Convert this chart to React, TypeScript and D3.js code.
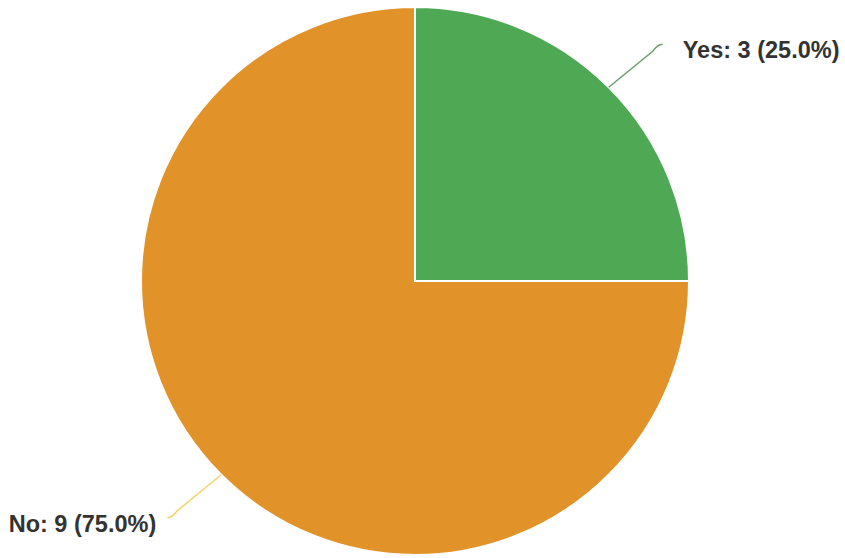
import React from "react";
import * as d3 from "d3";

const categories = ["Yes", "No"];
const values = [3, 9];
const colors = ["#4fa853", "#e1932a"];
const leaderColors = ["#6a9f6c", "#f2d36a"];

export default function App() {
  const width = 845;
  const height = 558;
  const cx = 415;
  const cy = 281;
  const r = 274;
  const total = d3.sum(values);
  const pie = d3.pie<number>().sort(null).value((d) => d)(values);
  const arc = d3.arc<d3.PieArcDatum<number>>().innerRadius(0).outerRadius(r);
  const edge = d3.arc<d3.PieArcDatum<number>>().innerRadius(r).outerRadius(r);

  return (
    <svg width={width} height={height} style={{ position: "absolute", left: 0, top: 0 }}>
      <rect width={width} height={height} fill="#fff" />
      <g transform={`translate(${cx},${cy})`}>
        {pie.map((p, i) => (
          <path key={i} d={arc(p) || ""} fill={colors[i]} stroke="#fff" strokeWidth={2} />
        ))}
        {pie.map((p, i) => {
          const [x0, y0] = edge.centroid(p);
          const right = x0 > 0;
          const dx = right ? 1 : -1;
          const ex = x0 + dx * 54;
          const ey = y0 + (y0 < 0 ? -43 : 43);
          const mx = ex - dx * 10;
          const my = ey + (y0 < 0 ? 7 : -7);
          const pct = ((values[i] / total) * 100).toFixed(1);
          const label = `${categories[i]}: ${values[i]} (${pct}%)`;
          return (
            <g key={"l" + i}>
              <path
                d={`M${x0},${y0} L${mx},${my} Q${ex - dx * 5},${ey} ${ex},${ey}`}
                fill="none"
                stroke={leaderColors[i]}
                strokeWidth={1.5}
              />
              <text
                x={ex + dx * (right ? 20 : 11)}
                y={ey + 14}
                textAnchor={right ? "start" : "end"}
                fontFamily="Liberation Sans, Arial, sans-serif"
                fontWeight="bold"
                fontSize={23.5}
                fill="#333"
              >
                {label}
              </text>
            </g>
          );
        })}
      </g>
    </svg>
  );
}
